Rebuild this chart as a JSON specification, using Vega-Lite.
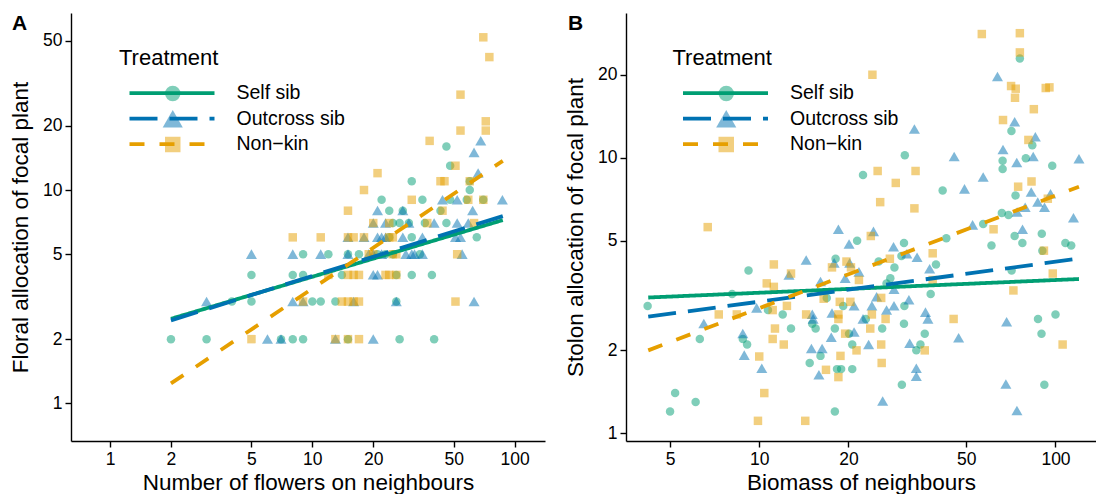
{
  "$schema": "https://vega.github.io/schema/vega-lite/v6.json",
  "background": "white",
  "autosize": {"type": "pad"},
  "padding": {"left": 9, "top": 13, "right": 0, "bottom": 0},
  "bounds": "flush",
  "spacing": 81,
  "config": {
    "view": {"stroke": null},
    "font": "Liberation Sans",
    "axis": {"grid": false, "domainColor": "black", "domainWidth": 1.4, "tickColor": "black", "tickWidth": 1.4, "tickSize": 6, "labelFontSize": 17.5, "labelColor": "black", "labelFont": "Liberation Sans", "titleFont": "Liberation Sans", "titleFontSize": 22.5, "titleFontWeight": "normal", "titleColor": "black", "labelPadding": 3},
    "axisX": {"titlePadding": 4},
    "axisY": {"titlePadding": 10.5},
    "legend": {"labelFont": "Liberation Sans", "titleFont": "Liberation Sans", "labelColor": "black", "titleColor": "black", "labelFontSize": 19.5, "titleFontSize": 22, "titleFontWeight": "normal", "padding": 0},
    "title": {"font": "Liberation Sans", "fontSize": 21, "fontWeight": "bold", "color": "black"}
  },
  "resolve": {
    "scale": {"fill": "independent", "shape": "independent", "stroke": "independent", "strokeDash": "independent"},
    "legend": {"fill": "independent", "shape": "independent", "stroke": "independent", "strokeDash": "independent"}
  },
  "datasets": {
    "ptsA": [
      {"x":2,"y":2,"Treatment":"Self sib"},{"x":3,"y":2,"Treatment":"Self sib"},{"x":7,"y":2,"Treatment":"Self sib"},{"x":8,"y":2,"Treatment":"Self sib"},{"x":9,"y":2,"Treatment":"Self sib"},{"x":15,"y":2,"Treatment":"Self sib"},{"x":27,"y":2,"Treatment":"Self sib"},{"x":40,"y":2,"Treatment":"Self sib"},
      {"x":4,"y":3,"Treatment":"Self sib"},{"x":5,"y":3,"Treatment":"Self sib"},{"x":10,"y":3,"Treatment":"Self sib"},{"x":11,"y":3,"Treatment":"Self sib"},{"x":13,"y":3,"Treatment":"Self sib"},{"x":26,"y":3,"Treatment":"Self sib"},
      {"x":5,"y":4,"Treatment":"Self sib"},{"x":8,"y":4,"Treatment":"Self sib"},{"x":9,"y":4,"Treatment":"Self sib"},{"x":14,"y":4,"Treatment":"Self sib"},{"x":26,"y":4,"Treatment":"Self sib"},{"x":31,"y":4,"Treatment":"Self sib"},{"x":39,"y":4,"Treatment":"Self sib"},
      {"x":9,"y":5,"Treatment":"Self sib"},{"x":12,"y":5,"Treatment":"Self sib"},{"x":15,"y":5,"Treatment":"Self sib"},{"x":17,"y":5,"Treatment":"Self sib"},{"x":21,"y":5,"Treatment":"Self sib"},{"x":23,"y":5,"Treatment":"Self sib"},{"x":25,"y":5,"Treatment":"Self sib"},{"x":34,"y":5,"Treatment":"Self sib"},
      {"x":24,"y":6,"Treatment":"Self sib"},{"x":31,"y":6,"Treatment":"Self sib"},{"x":65,"y":6,"Treatment":"Self sib"},
      {"x":25,"y":7,"Treatment":"Self sib"},{"x":27,"y":7,"Treatment":"Self sib"},{"x":30,"y":7,"Treatment":"Self sib"},{"x":36,"y":7,"Treatment":"Self sib"},{"x":46,"y":7,"Treatment":"Self sib"},
      {"x":24,"y":8,"Treatment":"Self sib"},{"x":28,"y":8,"Treatment":"Self sib"},{"x":43,"y":8,"Treatment":"Self sib"},
      {"x":22,"y":9,"Treatment":"Self sib"},{"x":35,"y":9,"Treatment":"Self sib"},{"x":48,"y":9,"Treatment":"Self sib"},{"x":58,"y":9,"Treatment":"Self sib"},{"x":70,"y":9,"Treatment":"Self sib"},
      {"x":60,"y":10,"Treatment":"Self sib"},{"x":31,"y":11,"Treatment":"Self sib"},{"x":60,"y":11,"Treatment":"Self sib"},{"x":48,"y":13,"Treatment":"Self sib"},{"x":46,"y":16,"Treatment":"Self sib"},
      {"x":6,"y":2,"Treatment":"Outcross sib"},{"x":7,"y":2,"Treatment":"Outcross sib"},{"x":13,"y":2,"Treatment":"Outcross sib"},{"x":20,"y":2,"Treatment":"Outcross sib"},
      {"x":3,"y":3,"Treatment":"Outcross sib"},{"x":8,"y":3,"Treatment":"Outcross sib"},{"x":9,"y":3,"Treatment":"Outcross sib"},{"x":16,"y":3,"Treatment":"Outcross sib"},{"x":26,"y":3,"Treatment":"Outcross sib"},{"x":63,"y":3,"Treatment":"Outcross sib"},
      {"x":20,"y":4,"Treatment":"Outcross sib"},{"x":21,"y":4,"Treatment":"Outcross sib"},
      {"x":5,"y":5,"Treatment":"Outcross sib"},{"x":8,"y":5,"Treatment":"Outcross sib"},{"x":11,"y":5,"Treatment":"Outcross sib"},{"x":15,"y":5,"Treatment":"Outcross sib"},{"x":19,"y":5,"Treatment":"Outcross sib"},{"x":20,"y":5,"Treatment":"Outcross sib"},{"x":22,"y":5,"Treatment":"Outcross sib"},{"x":29,"y":5,"Treatment":"Outcross sib"},{"x":31,"y":5,"Treatment":"Outcross sib"},{"x":32,"y":5,"Treatment":"Outcross sib"},{"x":35,"y":5,"Treatment":"Outcross sib"},{"x":55,"y":5,"Treatment":"Outcross sib"},
      {"x":15,"y":6,"Treatment":"Outcross sib"},{"x":18,"y":6,"Treatment":"Outcross sib"},{"x":21,"y":6,"Treatment":"Outcross sib"},{"x":22,"y":6,"Treatment":"Outcross sib"},{"x":23,"y":6,"Treatment":"Outcross sib"},{"x":28,"y":6,"Treatment":"Outcross sib"},{"x":35,"y":6,"Treatment":"Outcross sib"},{"x":51,"y":6,"Treatment":"Outcross sib"},{"x":54,"y":6,"Treatment":"Outcross sib"},
      {"x":20,"y":7,"Treatment":"Outcross sib"},{"x":23,"y":7,"Treatment":"Outcross sib"},{"x":30,"y":7,"Treatment":"Outcross sib"},{"x":40,"y":7,"Treatment":"Outcross sib"},{"x":52,"y":7,"Treatment":"Outcross sib"},{"x":59,"y":7,"Treatment":"Outcross sib"},
      {"x":21,"y":8,"Treatment":"Outcross sib"},{"x":28,"y":8,"Treatment":"Outcross sib"},{"x":62,"y":8,"Treatment":"Outcross sib"},
      {"x":44,"y":9,"Treatment":"Outcross sib"},{"x":52,"y":9,"Treatment":"Outcross sib"},{"x":87,"y":9,"Treatment":"Outcross sib"},
      {"x":66,"y":12,"Treatment":"Outcross sib"},{"x":63,"y":15,"Treatment":"Outcross sib"},{"x":68,"y":17,"Treatment":"Outcross sib"},
      {"x":5,"y":2,"Treatment":"Non−kin"},{"x":13,"y":2,"Treatment":"Non−kin"},{"x":15,"y":2,"Treatment":"Non−kin"},{"x":17,"y":2,"Treatment":"Non−kin"},
      {"x":9,"y":3,"Treatment":"Non−kin"},{"x":14,"y":3,"Treatment":"Non−kin"},{"x":15,"y":3,"Treatment":"Non−kin"},{"x":16,"y":3,"Treatment":"Non−kin"},{"x":17,"y":3,"Treatment":"Non−kin"},{"x":51,"y":3,"Treatment":"Non−kin"},
      {"x":12,"y":4,"Treatment":"Non−kin"},{"x":15,"y":4,"Treatment":"Non−kin"},{"x":16,"y":4,"Treatment":"Non−kin"},{"x":17,"y":4,"Treatment":"Non−kin"},{"x":23,"y":4,"Treatment":"Non−kin"},{"x":24,"y":4,"Treatment":"Non−kin"},{"x":26,"y":4,"Treatment":"Non−kin"},
      {"x":19,"y":5,"Treatment":"Non−kin"},{"x":20,"y":5,"Treatment":"Non−kin"},{"x":25,"y":5,"Treatment":"Non−kin"},{"x":26,"y":5,"Treatment":"Non−kin"},{"x":52,"y":5,"Treatment":"Non−kin"},
      {"x":8,"y":6,"Treatment":"Non−kin"},{"x":11,"y":6,"Treatment":"Non−kin"},{"x":15,"y":6,"Treatment":"Non−kin"},{"x":16,"y":6,"Treatment":"Non−kin"},{"x":18,"y":6,"Treatment":"Non−kin"},{"x":24,"y":6,"Treatment":"Non−kin"},{"x":25,"y":6,"Treatment":"Non−kin"},
      {"x":20,"y":7,"Treatment":"Non−kin"},{"x":24,"y":7,"Treatment":"Non−kin"},{"x":37,"y":7,"Treatment":"Non−kin"},{"x":63,"y":7,"Treatment":"Non−kin"},
      {"x":15,"y":8,"Treatment":"Non−kin"},{"x":44,"y":8,"Treatment":"Non−kin"},
      {"x":31,"y":9,"Treatment":"Non−kin"},{"x":59,"y":9,"Treatment":"Non−kin"},{"x":70,"y":9,"Treatment":"Non−kin"},
      {"x":18,"y":10,"Treatment":"Non−kin"},{"x":43,"y":11,"Treatment":"Non−kin"},{"x":45,"y":11,"Treatment":"Non−kin"},{"x":60,"y":11,"Treatment":"Non−kin"},{"x":21,"y":12,"Treatment":"Non−kin"},{"x":51,"y":13,"Treatment":"Non−kin"},{"x":38,"y":17,"Treatment":"Non−kin"},{"x":54,"y":19,"Treatment":"Non−kin"},{"x":72,"y":19,"Treatment":"Non−kin"},{"x":72,"y":21,"Treatment":"Non−kin"},{"x":54,"y":28,"Treatment":"Non−kin"},{"x":75,"y":42,"Treatment":"Non−kin"},{"x":70,"y":52,"Treatment":"Non−kin"}
    ],
    "fitA": [
      {"x":2,"y":2.49,"Treatment":"Self sib"},{"x":87.4,"y":7.23,"Treatment":"Self sib"},
      {"x":2,"y":2.45,"Treatment":"Outcross sib"},{"x":87.4,"y":7.55,"Treatment":"Outcross sib"},
      {"x":2,"y":1.24,"Treatment":"Non−kin"},{"x":87.4,"y":13.7,"Treatment":"Non−kin"}
    ],
    "ptsB": [
      {"x":4.2,"y":2.9,"Treatment":"Self sib"},{"x":5.0,"y":1.2,"Treatment":"Self sib"},{"x":5.2,"y":1.4,"Treatment":"Self sib"},{"x":6.1,"y":1.3,"Treatment":"Self sib"},{"x":6.3,"y":2.2,"Treatment":"Self sib"},{"x":8.1,"y":3.2,"Treatment":"Self sib"},{"x":8.8,"y":2.2,"Treatment":"Self sib"},{"x":9.1,"y":2.1,"Treatment":"Self sib"},{"x":9.2,"y":3.9,"Treatment":"Self sib"},{"x":10.7,"y":2.8,"Treatment":"Self sib"},{"x":12.0,"y":2.7,"Treatment":"Self sib"},{"x":12.8,"y":2.4,"Treatment":"Self sib"},{"x":14.8,"y":1.8,"Treatment":"Self sib"},{"x":15.1,"y":2.5,"Treatment":"Self sib"},{"x":15.5,"y":2.4,"Treatment":"Self sib"},{"x":16.1,"y":1.91,"Treatment":"Self sib"},{"x":16.9,"y":3.1,"Treatment":"Self sib"},{"x":18.0,"y":2.4,"Treatment":"Self sib"},{"x":18.0,"y":1.2,"Treatment":"Self sib"},{"x":18.1,"y":4.3,"Treatment":"Self sib"},{"x":18.3,"y":1.71,"Treatment":"Self sib"},{"x":18.9,"y":1.71,"Treatment":"Self sib"},{"x":19.2,"y":2.9,"Treatment":"Self sib"},{"x":20.1,"y":2.3,"Treatment":"Self sib"},{"x":20.6,"y":2.1,"Treatment":"Self sib"},{"x":20.6,"y":1.71,"Treatment":"Self sib"},{"x":21.4,"y":5.0,"Treatment":"Self sib"},{"x":22.4,"y":8.65,"Treatment":"Self sib"},{"x":22.9,"y":2.6,"Treatment":"Self sib"},{"x":25.3,"y":4.2,"Treatment":"Self sib"},{"x":26.0,"y":2.4,"Treatment":"Self sib"},{"x":26.9,"y":3.5,"Treatment":"Self sib"},{"x":27.7,"y":3.65,"Treatment":"Self sib"},{"x":28.6,"y":4.0,"Treatment":"Self sib"},{"x":30.2,"y":4.4,"Treatment":"Self sib"},{"x":30.3,"y":1.5,"Treatment":"Self sib"},{"x":30.8,"y":4.9,"Treatment":"Self sib"},{"x":30.8,"y":2.5,"Treatment":"Self sib"},{"x":30.9,"y":2.9,"Treatment":"Self sib"},{"x":31.0,"y":10.2,"Treatment":"Self sib"},{"x":33.9,"y":2.0,"Treatment":"Self sib"},{"x":35.0,"y":2.1,"Treatment":"Self sib"},{"x":36.2,"y":2.3,"Treatment":"Self sib"},{"x":37.9,"y":3.2,"Treatment":"Self sib"},{"x":39.5,"y":4.1,"Treatment":"Self sib"},{"x":41.6,"y":7.6,"Treatment":"Self sib"},{"x":42.8,"y":5.1,"Treatment":"Self sib"},{"x":57.0,"y":5.75,"Treatment":"Self sib"},{"x":60.8,"y":4.8,"Treatment":"Self sib"},{"x":65.9,"y":6.3,"Treatment":"Self sib"},{"x":66.3,"y":9.75,"Treatment":"Self sib"},{"x":66.3,"y":9.1,"Treatment":"Self sib"},{"x":69.4,"y":6.2,"Treatment":"Self sib"},{"x":71.0,"y":12.5,"Treatment":"Self sib"},{"x":71.1,"y":3.9,"Treatment":"Self sib"},{"x":72.8,"y":5.2,"Treatment":"Self sib"},{"x":73.3,"y":7.3,"Treatment":"Self sib"},{"x":75.8,"y":22.9,"Treatment":"Self sib"},{"x":77.3,"y":4.9,"Treatment":"Self sib"},{"x":79.4,"y":9.95,"Treatment":"Self sib"},{"x":83.5,"y":11.1,"Treatment":"Self sib"},{"x":87.3,"y":2.6,"Treatment":"Self sib"},{"x":89.7,"y":2.3,"Treatment":"Self sib"},{"x":89.9,"y":5.3,"Treatment":"Self sib"},{"x":90.3,"y":4.6,"Treatment":"Self sib"},{"x":91.7,"y":1.5,"Treatment":"Self sib"},{"x":97.5,"y":9.35,"Treatment":"Self sib"},{"x":100,"y":2.7,"Treatment":"Self sib"},{"x":108,"y":4.9,"Treatment":"Self sib"},{"x":113,"y":4.8,"Treatment":"Self sib"},
      {"x":6.5,"y":2.5,"Treatment":"Outcross sib"},{"x":8.8,"y":2.3,"Treatment":"Outcross sib"},{"x":8.9,"y":1.92,"Treatment":"Outcross sib"},{"x":9.8,"y":2.85,"Treatment":"Outcross sib"},{"x":10.2,"y":1.72,"Treatment":"Outcross sib"},{"x":12.6,"y":3.75,"Treatment":"Outcross sib"},{"x":14.4,"y":4.25,"Treatment":"Outcross sib"},{"x":15.0,"y":2.03,"Treatment":"Outcross sib"},{"x":15.1,"y":2.7,"Treatment":"Outcross sib"},{"x":15.2,"y":2.6,"Treatment":"Outcross sib"},{"x":15.9,"y":1.63,"Treatment":"Outcross sib"},{"x":16.1,"y":3.55,"Treatment":"Outcross sib"},{"x":16.3,"y":2.03,"Treatment":"Outcross sib"},{"x":17.5,"y":2.23,"Treatment":"Outcross sib"},{"x":17.6,"y":2.73,"Treatment":"Outcross sib"},{"x":17.9,"y":4.15,"Treatment":"Outcross sib"},{"x":18.5,"y":5.5,"Treatment":"Outcross sib"},{"x":19.5,"y":3.65,"Treatment":"Outcross sib"},{"x":20.1,"y":4.86,"Treatment":"Outcross sib"},{"x":20.2,"y":4.15,"Treatment":"Outcross sib"},{"x":20.9,"y":2.9,"Treatment":"Outcross sib"},{"x":20.9,"y":2.33,"Treatment":"Outcross sib"},{"x":21.7,"y":3.85,"Treatment":"Outcross sib"},{"x":22.4,"y":2.6,"Treatment":"Outcross sib"},{"x":23.4,"y":2.1,"Treatment":"Outcross sib"},{"x":24.0,"y":2.9,"Treatment":"Outcross sib"},{"x":24.3,"y":5.4,"Treatment":"Outcross sib"},{"x":24.9,"y":3.13,"Treatment":"Outcross sib"},{"x":26.1,"y":1.31,"Treatment":"Outcross sib"},{"x":26.9,"y":2.8,"Treatment":"Outcross sib"},{"x":28.4,"y":4.75,"Treatment":"Outcross sib"},{"x":28.5,"y":3.33,"Treatment":"Outcross sib"},{"x":28.5,"y":2.9,"Treatment":"Outcross sib"},{"x":31.5,"y":4.48,"Treatment":"Outcross sib"},{"x":32.0,"y":3.05,"Treatment":"Outcross sib"},{"x":32.2,"y":2.12,"Treatment":"Outcross sib"},{"x":33.4,"y":12.7,"Treatment":"Outcross sib"},{"x":33.9,"y":1.72,"Treatment":"Outcross sib"},{"x":33.9,"y":1.61,"Treatment":"Outcross sib"},{"x":34.1,"y":4.35,"Treatment":"Outcross sib"},{"x":36.4,"y":2.75,"Treatment":"Outcross sib"},{"x":37.1,"y":2.6,"Treatment":"Outcross sib"},{"x":37.6,"y":3.95,"Treatment":"Outcross sib"},{"x":45.5,"y":10.1,"Treatment":"Outcross sib"},{"x":47.1,"y":2.22,"Treatment":"Outcross sib"},{"x":49.3,"y":7.7,"Treatment":"Outcross sib"},{"x":52.5,"y":5.7,"Treatment":"Outcross sib"},{"x":57.0,"y":8.5,"Treatment":"Outcross sib"},{"x":63.7,"y":19.7,"Treatment":"Outcross sib"},{"x":66.5,"y":10.7,"Treatment":"Outcross sib"},{"x":68.0,"y":1.51,"Treatment":"Outcross sib"},{"x":68.4,"y":2.54,"Treatment":"Outcross sib"},{"x":72.8,"y":13.5,"Treatment":"Outcross sib"},{"x":74.0,"y":9.6,"Treatment":"Outcross sib"},{"x":74.1,"y":1.21,"Treatment":"Outcross sib"},{"x":74.2,"y":6.35,"Treatment":"Outcross sib"},{"x":77.4,"y":5.5,"Treatment":"Outcross sib"},{"x":79.0,"y":6.6,"Treatment":"Outcross sib"},{"x":82.8,"y":7.5,"Treatment":"Outcross sib"},{"x":84.1,"y":10.1,"Treatment":"Outcross sib"},{"x":85.5,"y":11.9,"Treatment":"Outcross sib"},{"x":87.1,"y":6.9,"Treatment":"Outcross sib"},{"x":91.8,"y":6.6,"Treatment":"Outcross sib"},{"x":96.2,"y":7.4,"Treatment":"Outcross sib"},{"x":115,"y":6.05,"Treatment":"Outcross sib"},{"x":120,"y":9.9,"Treatment":"Outcross sib"},
      {"x":6.7,"y":5.6,"Treatment":"Non−kin"},{"x":7.3,"y":2.7,"Treatment":"Non−kin"},{"x":8.4,"y":2.7,"Treatment":"Non−kin"},{"x":9.9,"y":1.11,"Treatment":"Non−kin"},{"x":10.0,"y":1.9,"Treatment":"Non−kin"},{"x":10.4,"y":1.4,"Treatment":"Non−kin"},{"x":10.6,"y":3.5,"Treatment":"Non−kin"},{"x":11.1,"y":2.8,"Treatment":"Non−kin"},{"x":11.1,"y":2.2,"Treatment":"Non−kin"},{"x":11.2,"y":4.1,"Treatment":"Non−kin"},{"x":11.2,"y":3.4,"Treatment":"Non−kin"},{"x":11.3,"y":2.4,"Treatment":"Non−kin"},{"x":12.1,"y":2.1,"Treatment":"Non−kin"},{"x":12.4,"y":2.9,"Treatment":"Non−kin"},{"x":12.8,"y":3.8,"Treatment":"Non−kin"},{"x":14.3,"y":1.11,"Treatment":"Non−kin"},{"x":14.4,"y":2.7,"Treatment":"Non−kin"},{"x":16.5,"y":3.08,"Treatment":"Non−kin"},{"x":16.8,"y":1.7,"Treatment":"Non−kin"},{"x":17.6,"y":4.0,"Treatment":"Non−kin"},{"x":18.5,"y":2.7,"Treatment":"Non−kin"},{"x":18.5,"y":2.6,"Treatment":"Non−kin"},{"x":18.5,"y":1.6,"Treatment":"Non−kin"},{"x":18.7,"y":3.0,"Treatment":"Non−kin"},{"x":18.8,"y":1.91,"Treatment":"Non−kin"},{"x":19.5,"y":2.3,"Treatment":"Non−kin"},{"x":19.7,"y":4.2,"Treatment":"Non−kin"},{"x":20.3,"y":3.0,"Treatment":"Non−kin"},{"x":20.4,"y":4.0,"Treatment":"Non−kin"},{"x":21.3,"y":2.0,"Treatment":"Non−kin"},{"x":21.7,"y":3.6,"Treatment":"Non−kin"},{"x":23.7,"y":2.4,"Treatment":"Non−kin"},{"x":23.8,"y":5.2,"Treatment":"Non−kin"},{"x":24.0,"y":2.7,"Treatment":"Non−kin"},{"x":24.1,"y":20.0,"Treatment":"Non−kin"},{"x":25.1,"y":8.95,"Treatment":"Non−kin"},{"x":25.6,"y":6.9,"Treatment":"Non−kin"},{"x":25.8,"y":3.1,"Treatment":"Non−kin"},{"x":25.8,"y":2.1,"Treatment":"Non−kin"},{"x":25.9,"y":1.8,"Treatment":"Non−kin"},{"x":26.7,"y":2.6,"Treatment":"Non−kin"},{"x":27.6,"y":4.3,"Treatment":"Non−kin"},{"x":28.9,"y":8.1,"Treatment":"Non−kin"},{"x":33.4,"y":6.55,"Treatment":"Non−kin"},{"x":33.7,"y":8.95,"Treatment":"Non−kin"},{"x":36.2,"y":2.0,"Treatment":"Non−kin"},{"x":38.5,"y":4.5,"Treatment":"Non−kin"},{"x":38.5,"y":3.6,"Treatment":"Non−kin"},{"x":45.3,"y":2.6,"Treatment":"Non−kin"},{"x":56.4,"y":28.1,"Treatment":"Non−kin"},{"x":61.8,"y":5.5,"Treatment":"Non−kin"},{"x":66.5,"y":13.7,"Treatment":"Non−kin"},{"x":70.8,"y":18.2,"Treatment":"Non−kin"},{"x":72.1,"y":3.3,"Treatment":"Non−kin"},{"x":73.0,"y":16.5,"Treatment":"Non−kin"},{"x":73.4,"y":17.8,"Treatment":"Non−kin"},{"x":74.8,"y":7.85,"Treatment":"Non−kin"},{"x":75.8,"y":28.3,"Treatment":"Non−kin"},{"x":75.8,"y":24.1,"Treatment":"Non−kin"},{"x":81.0,"y":11.6,"Treatment":"Non−kin"},{"x":83.0,"y":8.2,"Treatment":"Non−kin"},{"x":84.5,"y":15.0,"Treatment":"Non−kin"},{"x":91.4,"y":4.6,"Treatment":"Non−kin"},{"x":92.7,"y":17.9,"Treatment":"Non−kin"},{"x":94.2,"y":7.1,"Treatment":"Non−kin"},{"x":95.4,"y":18.0,"Treatment":"Non−kin"},{"x":97.9,"y":3.8,"Treatment":"Non−kin"},{"x":105.7,"y":2.1,"Treatment":"Non−kin"}
    ],
    "fitB": [
      {"x":4.22,"y":3.11,"Treatment":"Self sib"},{"x":120,"y":3.63,"Treatment":"Self sib"},
      {"x":4.22,"y":2.65,"Treatment":"Outcross sib"},{"x":117,"y":4.29,"Treatment":"Outcross sib"},
      {"x":4.22,"y":2.0,"Treatment":"Non−kin"},{"x":120,"y":7.85,"Treatment":"Non−kin"}
    ]
  },
  "hconcat": [
    {
      "width": 474,
      "height": 428,
      "title": {"text": "A", "anchor": "start", "frame": "group", "baseline": "alphabetic", "offset": 0, "dx": -59, "dy": 38},
      "layer": [
        {
          "data": {"name": "ptsA"},
          "mark": {"type": "point", "filled": true, "opacity": 0.5, "size": 72},
          "encoding": {
            "x": {"field": "x", "type": "quantitative", "scale": {"type": "log", "domain": [0.641, 141.3], "nice": false}, "axis": {"title": "Number of flowers on neighbours", "values": [1, 2, 5, 10, 20, 50, 100], "format": "d"}},
            "y": {"field": "y", "type": "quantitative", "scale": {"type": "log", "domain": [0.666, 67.6], "nice": false}, "axis": {"title": "Floral allocation of focal plant", "values": [1, 2, 5, 10, 20, 50], "format": "d"}},
            "fill": {"field": "Treatment", "type": "nominal", "scale": {"domain": ["Self sib", "Outcross sib", "Non−kin"], "range": ["#009E73", "#0072B2", "#E69F00"]}, "legend": {"orient": "none", "legendX": 48, "legendY": 70.5, "title": null, "symbolSize": 240, "symbolOpacity": 0.5, "symbolStrokeWidth": 0, "clipHeight": 20, "rowPadding": 5.5, "symbolOffset": 44, "labelExpr": "''"}},
            "shape": {"field": "Treatment", "type": "nominal", "scale": {"domain": ["Self sib", "Outcross sib", "Non−kin"], "range": ["circle", "M0,-1.15L1.3,1.1L-1.3,1.1Z", "square"]}, "legend": {"orient": "none", "legendX": 48, "legendY": 70.5, "title": null, "symbolSize": 240, "symbolOpacity": 0.5, "symbolStrokeWidth": 0, "clipHeight": 20, "rowPadding": 5.5, "symbolOffset": 44, "labelExpr": "''"}}
          }
        },
        {
          "data": {"name": "fitA"},
          "mark": {"type": "line", "strokeWidth": 3.8, "strokeCap": "butt"},
          "encoding": {
            "x": {"field": "x", "type": "quantitative", "scale": {"type": "log", "domain": [0.641, 141.3], "nice": false}},
            "y": {"field": "y", "type": "quantitative", "scale": {"type": "log", "domain": [0.666, 67.6], "nice": false}},
            "stroke": {"field": "Treatment", "type": "nominal", "sort": null, "scale": {"range": ["#009E73", "#0072B2", "#E69F00"]}, "legend": {"orient": "none", "legendX": 48, "legendY": 34.5, "title": "Treatment", "symbolType": "stroke", "symbolSize": 7225, "symbolStrokeWidth": 3.8, "clipHeight": 20, "rowPadding": 5.5, "symbolOffset": 8.5, "labelOffset": 20, "titlePadding": 13.7}},
            "strokeDash": {"field": "Treatment", "type": "nominal", "sort": null, "scale": {"range": [[1, 0], [28, 12], [15, 15]]}, "legend": {"orient": "none", "legendX": 48, "legendY": 34.5, "title": "Treatment", "symbolType": "stroke", "symbolSize": 7225, "symbolStrokeWidth": 3.8, "clipHeight": 20, "rowPadding": 5.5, "symbolOffset": 8.5, "labelOffset": 20, "titlePadding": 13.7}}
          }
        }
      ]
    },
    {
      "width": 470,
      "height": 428,
      "title": {"text": "B", "anchor": "start", "frame": "group", "baseline": "alphabetic", "offset": 0, "dx": -58, "dy": 38},
      "layer": [
        {
          "data": {"name": "ptsB"},
          "mark": {"type": "point", "filled": true, "opacity": 0.5, "size": 72},
          "encoding": {
            "x": {"field": "x", "type": "quantitative", "scale": {"type": "log", "domain": [3.55, 137], "nice": false}, "axis": {"title": "Biomass of neighbours", "values": [5, 10, 20, 50, 100], "format": "d"}},
            "y": {"field": "y", "type": "quantitative", "scale": {"type": "log", "domain": [0.938, 33.5], "nice": false}, "axis": {"title": "Stolon allocation of focal plant", "values": [1, 2, 5, 10, 20], "format": "d"}},
            "fill": {"field": "Treatment", "type": "nominal", "scale": {"domain": ["Self sib", "Outcross sib", "Non−kin"], "range": ["#009E73", "#0072B2", "#E69F00"]}, "legend": {"orient": "none", "legendX": 46.5, "legendY": 70.5, "title": null, "symbolSize": 240, "symbolOpacity": 0.5, "symbolStrokeWidth": 0, "clipHeight": 20, "rowPadding": 5.5, "symbolOffset": 44, "labelExpr": "''"}},
            "shape": {"field": "Treatment", "type": "nominal", "scale": {"domain": ["Self sib", "Outcross sib", "Non−kin"], "range": ["circle", "M0,-1.15L1.3,1.1L-1.3,1.1Z", "square"]}, "legend": {"orient": "none", "legendX": 46.5, "legendY": 70.5, "title": null, "symbolSize": 240, "symbolOpacity": 0.5, "symbolStrokeWidth": 0, "clipHeight": 20, "rowPadding": 5.5, "symbolOffset": 44, "labelExpr": "''"}}
          }
        },
        {
          "data": {"name": "fitB"},
          "mark": {"type": "line", "strokeWidth": 3.8, "strokeCap": "butt"},
          "encoding": {
            "x": {"field": "x", "type": "quantitative", "scale": {"type": "log", "domain": [3.55, 137], "nice": false}},
            "y": {"field": "y", "type": "quantitative", "scale": {"type": "log", "domain": [0.938, 33.5], "nice": false}},
            "stroke": {"field": "Treatment", "type": "nominal", "sort": null, "scale": {"range": ["#009E73", "#0072B2", "#E69F00"]}, "legend": {"orient": "none", "legendX": 46.5, "legendY": 34.5, "title": "Treatment", "symbolType": "stroke", "symbolSize": 7225, "symbolStrokeWidth": 3.8, "clipHeight": 20, "rowPadding": 5.5, "symbolOffset": 8.5, "labelOffset": 20, "titlePadding": 13.7}},
            "strokeDash": {"field": "Treatment", "type": "nominal", "sort": null, "scale": {"range": [[1, 0], [28, 12], [15, 15]]}, "legend": {"orient": "none", "legendX": 46.5, "legendY": 34.5, "title": "Treatment", "symbolType": "stroke", "symbolSize": 7225, "symbolStrokeWidth": 3.8, "clipHeight": 20, "rowPadding": 5.5, "symbolOffset": 8.5, "labelOffset": 20, "titlePadding": 13.7}}
          }
        }
      ]
    }
  ]
}
